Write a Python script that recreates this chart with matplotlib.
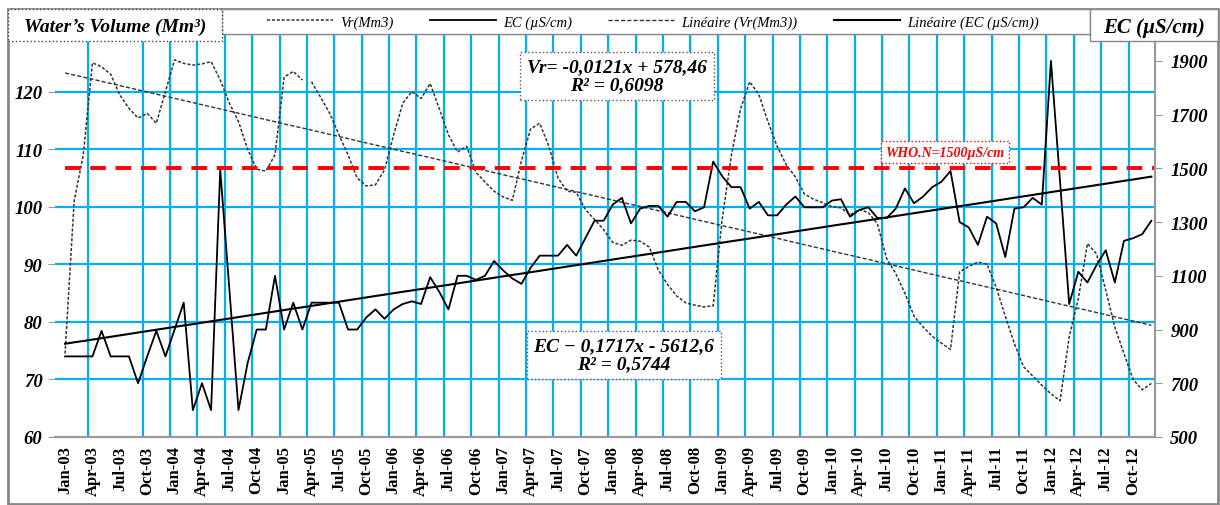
import numpy as np
import pandas as pd
import matplotlib.pyplot as plt
from matplotlib.lines import Line2D
from matplotlib.patches import Rectangle

# monthly series Jan-03 .. Dec-12
months = pd.date_range('2003-01-01', periods=120, freq='MS')

# water volume Vr (Mm3), left axis
vr = [74.5, 101, 109, 125, 124.3, 123, 119.4, 117.1, 115.4, 116.2, 114.5, 120,
      125.5, 124.9, 124.6, 124.8, 125.2, 122, 118, 114.8, 110, 106.5, 106.2, 109,
      122.5, 123.5, 122, 121.7, 119, 116.2, 112.5, 109, 105, 103.6, 103.8, 106.4,
      112.5, 118, 120, 118.8, 121.4, 117, 112.5, 109.5, 110.5, 106, 104.3, 102.7,
      101.7, 101.1, 108, 113.5, 114.5, 110.5, 105, 102.7, 102.5, 99.5, 97.8, 96,
      93.8, 93.3, 94.2, 94, 93, 89, 86.5, 84.5, 83.3, 82.9, 82.6, 82.8,
      98, 109, 117, 121.7, 119.5, 114.8, 110.5, 107.3, 105.2, 102.2, 101.3, 100.7,
      100, 99.8, 98.6, 99.5, 99, 97, 91, 88.4, 85, 81, 79.1, 77.5,
      76.3, 75.2, 88.7, 89.6, 90.4, 90, 86, 81, 76.2, 72.2, 70.6, 69,
      67.5, 66.3, 77.4, 84, 93.6, 91.8, 85.5, 79.1, 74.5, 70, 68.2, 69.3]
vr_break = 27  # line is interrupted between Mar-05 and Apr-05

# electrical conductivity EC (uS/cm), right axis
ec = [800, 800, 800, 800, 895, 800, 800, 800, 700, 800, 895, 800,
      900, 1000, 600, 700, 600, 1495, 1050, 600, 775, 900, 900, 1100,
      900, 1000, 900, 1000, 1000, 1000, 1000, 900, 900, 945, 975, 940,
      975, 995, 1005, 995, 1095, 1040, 975, 1100, 1100, 1085, 1100, 1155,
      1120, 1090, 1070, 1130, 1175, 1175, 1175, 1215, 1175, 1240, 1305, 1305,
      1365, 1390, 1295, 1350, 1360, 1360, 1320, 1375, 1375, 1340, 1355, 1525,
      1470, 1430, 1430, 1350, 1375, 1325, 1325, 1365, 1395, 1355, 1355, 1355,
      1380, 1385, 1320, 1345, 1355, 1315, 1315, 1350, 1425, 1370, 1395, 1430,
      1450, 1490, 1300, 1280, 1215, 1320, 1295, 1170, 1350, 1355, 1390, 1365,
      1900, 1450, 995, 1115, 1075, 1140, 1195, 1075, 1230, 1240, 1255, 1305]

# Excel trend lines (x = Excel date serial)
vr_slope, vr_icpt, vr_r2 = -0.0121, 578.46, 0.6098
ec_slope, ec_icpt, ec_r2 = 0.1717, -5612.6, 0.5744
WHO_LIMIT = 1500

vr = np.array(vr)
ec = np.array(ec)
idx = np.arange(len(months))
serial = (months - pd.Timestamp('1899-12-30')).days.values
vr_trend = vr_slope * serial + vr_icpt
ec_trend = ec_slope * serial + ec_icpt
labels = months.strftime('%b-%y')

W, H = 1220, 506
def fx(x): return x / W
def fy(y): return 1 - y / H

SERIF = 'Liberation Serif'
GRID = '#00B0F0'

fig = plt.figure(figsize=(12.2, 5.06), dpi=100)
ax = fig.add_axes([fx(55), fy(438), 1100 / W, 403 / H])
ax2 = ax.twinx()

# grid
for v in range(70, 131, 10):
    ax.axhline(v, color=GRID, lw=1.6, zorder=0)
for q in range(3, 120, 3):
    if q == 6:
        continue
    ax.axvline(q - 0.5, color=GRID, lw=1.6, zorder=0)

# Vr and trend
vstyle = dict(color='#333333', lw=1.1, ls=(0, (2, 1.2)))
ax.plot(idx[:vr_break], vr[:vr_break], **vstyle)
ax.plot(idx[vr_break:], vr[vr_break:], **vstyle)
ax.plot(idx, vr_trend, color='#333333', lw=1.0, ls=(0, (3, 1.5)))

# EC and trend
ax2.plot(idx, ec, color='black', lw=1.3)
ax2.plot(idx, ec_trend, color='black', lw=1.5)
ax2.hlines(WHO_LIMIT, 0, 119.4, color='#FF0000', lw=2.8, ls=(0, (4, 2.5)))

ax.set_xlim(-1.1, 119.4)
ax.set_ylim(60, 130)
ax2.set_ylim(500, 2000)

ax.set_yticks(range(60, 121, 10))
ax2.set_yticks(range(500, 2000, 200))
ax.set_xticks(idx[::3])
ax.set_xticklabels(labels[::3], rotation=90, fontfamily=SERIF,
                   fontweight='bold', fontsize=12)
for a in (ax, ax2):
    for t in a.get_yticklabels():
        t.set_fontfamily(SERIF)
        t.set_fontweight('bold')
        t.set_fontstyle('italic')
        t.set_fontsize(13.5)
ax.tick_params(axis='x', length=0, pad=6)
ax.tick_params(axis='y', length=5, color='#999999', pad=4)
ax2.tick_params(axis='y', length=5, color='#999999', pad=6)

for a in (ax, ax2):
    a.spines['top'].set_visible(False)
    a.spines['left'].set_visible(False)
    a.spines['bottom'].set_color('#999999')
    a.spines['right'].set_color('#999999')
    a.spines['bottom'].set_linewidth(1.5)
    a.spines['right'].set_linewidth(1.5)

# equation boxes
eq_font = dict(family=SERIF, weight='bold', style='italic', fontsize=14)
fig.text(fx(617), fy(77),
         'Vr= %s + %s\nR² = %s' % (('%.4fx' % vr_slope).replace('.', ','),
                                   ('%.2f' % vr_icpt).replace('.', ','),
                                   ('%.4f' % vr_r2).replace('.', ',')),
         ha='center', va='center', linespacing=1.1, **eq_font,
         bbox=dict(boxstyle='square,pad=0.35', fc='white', ec='#555555', ls=':', lw=1))
fig.text(fx(624), fy(356),
         'EC − %s - %s\nR² = %s' % (('%.4fx' % ec_slope).replace('.', ','),
                                    ('%.1f' % -ec_icpt).replace('.', ','),
                                    ('%.4f' % ec_r2).replace('.', ',')),
         ha='center', va='center', linespacing=1.1, **eq_font,
         bbox=dict(boxstyle='square,pad=0.35', fc='white', ec='#555555', ls=':', lw=1))

# WHO label
fig.text(fx(945), fy(153), 'WHO.N=%dµS/cm' % WHO_LIMIT, color='#FF0000',
         family=SERIF, weight='bold', style='italic', fontsize=10,
         ha='center', va='center',
         bbox=dict(boxstyle='square,pad=0.3', fc='white', ec='#FF0000', ls=':', lw=1))

# frame, header boxes and legend
fig.patches.append(Rectangle((fx(8), fy(505)), (1218 - 8) / W, (505 - 10) / H,
                             transform=fig.transFigure, fill=False,
                             ec='#888888', lw=2))
fig.patches.append(Rectangle((fx(222), fy(35)), (1090 - 222) / W, 25 / H,
                             transform=fig.transFigure, fc='white',
                             ec='#888888', lw=1, zorder=5))
fig.patches.append(Rectangle((fx(8), fy(42)), (222 - 8) / W, 32 / H,
                             transform=fig.transFigure, fc='white',
                             ec='#444444', ls=':', lw=1, zorder=5))
fig.patches.append(Rectangle((fx(1090), fy(42)), (1218 - 1090) / W, 32 / H,
                             transform=fig.transFigure, fc='white',
                             ec='#888888', lw=1, zorder=5))
fig.text(fx(115), fy(27), 'Water’s Volume (Mm³)', family=SERIF,
         weight='bold', style='italic', fontsize=14, ha='center', va='center',
         zorder=6)
fig.text(fx(1154), fy(28), 'EC (µS/cm)', family=SERIF, weight='bold',
         style='italic', fontsize=15, ha='center', va='center', zorder=6)

handles = [Line2D([], [], **vstyle),
           Line2D([], [], color='black', lw=1.3),
           Line2D([], [], color='#333333', lw=1.0, ls=(0, (3, 1.5))),
           Line2D([], [], color='black', lw=1.5)]
names = ['Vr(Mm3)', 'EC (µS/cm)', 'Linéaire (Vr(Mm3))', 'Linéaire (EC (µS/cm))']
leg = fig.legend(handles, names, ncol=4, loc='center',
                 bbox_to_anchor=(fx(653), fy(23)), frameon=False,
                 handlelength=4.5, columnspacing=2.5, handletextpad=0.5,
                 prop=dict(family=SERIF, style='italic', size=10.5))
leg.set_zorder(7)

fig.savefig('out.png', dpi=100)
